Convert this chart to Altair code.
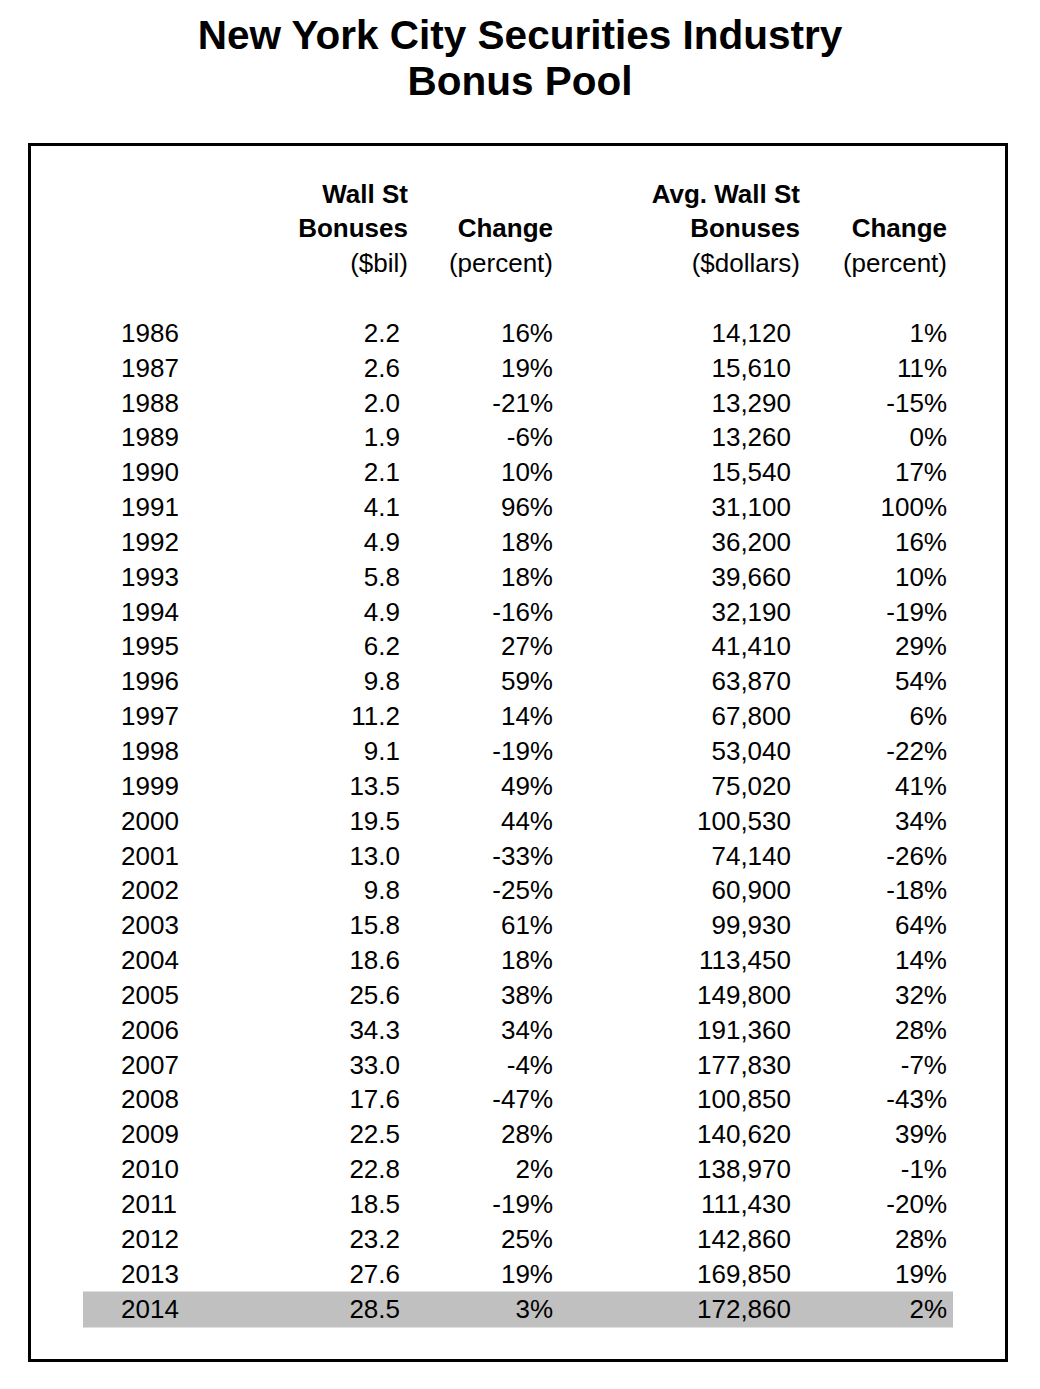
import altair as alt
import pandas as pd

years = list(range(1986, 2015))
bonus_bil = [2.2, 2.6, 2.0, 1.9, 2.1, 4.1, 4.9, 5.8, 4.9, 6.2, 9.8, 11.2, 9.1, 13.5, 19.5,
             13.0, 9.8, 15.8, 18.6, 25.6, 34.3, 33.0, 17.6, 22.5, 22.8, 18.5, 23.2, 27.6, 28.5]
bonus_chg = [16, 19, -21, -6, 10, 96, 18, 18, -16, 27, 59, 14, -19, 49, 44,
             -33, -25, 61, 18, 38, 34, -4, -47, 28, 2, -19, 25, 19, 3]
avg_bonus = [14120, 15610, 13290, 13260, 15540, 31100, 36200, 39660, 32190, 41410, 63870,
             67800, 53040, 75020, 100530, 74140, 60900, 99930, 113450, 149800, 191360,
             177830, 100850, 140620, 138970, 111430, 142860, 169850, 172860]
avg_chg = [1, 11, -15, 0, 17, 100, 16, 10, -19, 29, 54, 6, -22, 41, 34,
           -26, -18, 64, 14, 32, 28, -7, -43, 39, -1, -20, 28, 19, 2]
highlight_year = 2014

title_lines = ["New York City Securities Industry", "Bonus Pool"]
header_bold = [  # (row, column, text)
    (-4, "h_bonus", "Wall St"), (-4, "h_avg", "Avg. Wall St"),
    (-3, "h_bonus", "Bonuses"), (-3, "h_chg1", "Change"),
    (-3, "h_avg", "Bonuses"), (-3, "h_chg2", "Change"),
]
header_plain = [
    (-2, "h_bonus", "($bil)"), (-2, "h_chg1", "(percent)"),
    (-2, "h_avg", "($dollars)"), (-2, "h_chg2", "(percent)"),
]

cols = ["year", "bonus", "chg1", "avg", "chg2", "h_bonus", "h_chg1", "h_avg", "h_chg2"]
col_pos = [113, 392, 545, 783, 939, 400, 545, 792, 939]
col_idx = {c: i for i, c in enumerate(cols)}

rows = []
for i, y in enumerate(years):
    rows.append({"row": i, "col": "year", "label": str(y)})
    rows.append({"row": i, "col": "bonus", "label": f"{bonus_bil[i]:.1f}"})
    rows.append({"row": i, "col": "chg1", "label": f"{bonus_chg[i]}%"})
    rows.append({"row": i, "col": "avg", "label": f"{avg_bonus[i]:,}"})
    rows.append({"row": i, "col": "chg2", "label": f"{avg_chg[i]}%"})
cells = pd.DataFrame(rows)
hb = pd.DataFrame(header_bold, columns=["row", "col", "label"])
hp = pd.DataFrame(header_plain, columns=["row", "col", "label"])
for df in (cells, hb, hp):
    df["ci"] = df["col"].map(col_idx)
hl = pd.DataFrame({"row": [years.index(highlight_year)]})
hl["r0"] = hl["row"] - 0.52
hl["r1"] = hl["row"] + 0.52

FONT = "Liberation Sans"
xs = alt.Scale(domain=list(range(len(cols))), range=col_pos, zero=False, nice=False)
ys = alt.Scale(domain=[-4, 28], range=[186.5, 1301.5], zero=False, nice=False)

X = alt.X("ci:Q", scale=xs, axis=None)
Y = alt.Y("row:Q", scale=ys, axis=None)

highlight = alt.Chart(hl).mark_rect(color="#c0c0c0").encode(
    x=alt.value(75), x2=alt.value(945),
    y=alt.Y("r0:Q", scale=ys, axis=None), y2="r1:Q")

box = alt.Chart(hl).mark_rect(fill=None, stroke="black", strokeWidth=3).encode(
    x=alt.value(21.5), x2=alt.value(998.5), y=alt.value(136.5), y2=alt.value(1352.5))

year_txt = alt.Chart(cells).transform_filter("datum.col == 'year'").mark_text(
    align="left", baseline="middle", font=FONT, fontSize=26, color="black").encode(
    x=X, y=Y, text="label:N")
val_txt = alt.Chart(cells).transform_filter("datum.col != 'year'").mark_text(
    align="right", baseline="middle", font=FONT, fontSize=26, color="black").encode(
    x=X, y=Y, text="label:N")
hb_txt = alt.Chart(hb).mark_text(
    align="right", baseline="middle", font=FONT, fontSize=26, fontWeight="bold",
    color="black").encode(x=X, y=Y, text="label:N")
hp_txt = alt.Chart(hp).mark_text(
    align="right", baseline="middle", font=FONT, fontSize=26, color="black").encode(
    x=X, y=Y, text="label:N")

t_df = pd.DataFrame({"label": title_lines, "line": [0, 1]})
title_txt = alt.Chart(t_df).mark_text(
    align="center", baseline="middle", font=FONT, fontSize=40.5, fontWeight="bold",
    color="black").encode(
    x=alt.value(512),
    y=alt.Y("line:Q", scale=alt.Scale(domain=[0, 1], range=[28.5, 74.5]), axis=None),
    text="label:N")

chart = alt.layer(highlight, box, year_txt, val_txt, hb_txt, hp_txt, title_txt).resolve_scale(
    y="independent").properties(
    width=1024, height=1373, padding=0, autosize="none", background="white"
).configure_view(stroke=None)

chart.save("out.html", embed_options={"renderer": "svg", "actions": False})
